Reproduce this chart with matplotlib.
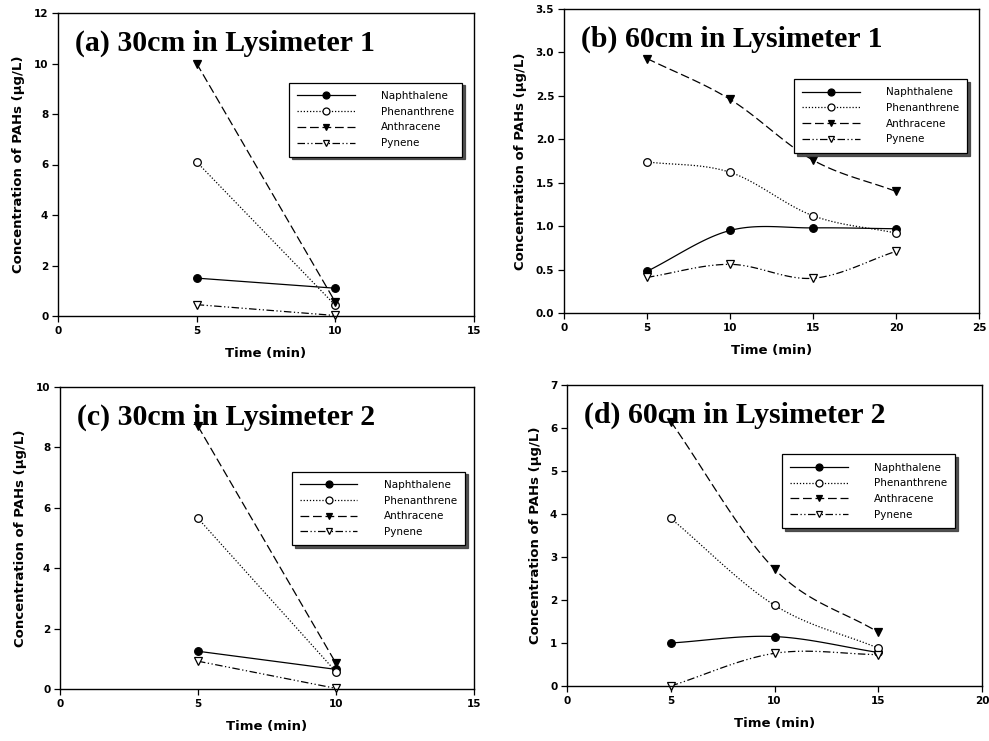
import numpy as np
import matplotlib
matplotlib.use("Agg")
import matplotlib.pyplot as plt

# Daten
names = ["Naphthalene", "Phenanthrene", "Anthracene", "Pynene"]

time_a = [5, 10]
naph_a = [1.5, 1.1]
phen_a = [6.1, 0.42]
anth_a = [10.0, 0.55]
pyr_a = [0.45, 0.02]

time_b = [5, 10, 15, 20]
naph_b = [0.48, 0.95, 0.98, 0.97]
phen_b = [1.74, 1.62, 1.12, 0.92]
anth_b = [2.93, 2.46, 1.76, 1.40]
pyr_b = [0.41, 0.56, 0.40, 0.71]

time_c = [5, 10]
naph_c = [1.25, 0.65]
phen_c = [5.65, 0.57]
anth_c = [8.7, 0.85]
pyr_c = [0.92, 0.02]

time_d = [5, 10, 15]
naph_d = [1.0, 1.15, 0.78]
phen_d = [3.9, 1.88, 0.88]
anth_d = [6.15, 2.72, 1.25]
pyr_d = [0.0, 0.76, 0.73]

titles = ["(a) 30cm in Lysimeter 1", "(b) 60cm in Lysimeter 1",
          "(c) 30cm in Lysimeter 2", "(d) 60cm in Lysimeter 2"]

styles = [
    dict(ls="-", marker="o", mfc="black"),
    dict(ls=(0, (1, 1.5)), marker="o", mfc="white"),
    dict(ls=(0, (7, 3)), marker="v", mfc="black"),
    dict(ls=(0, (6, 2, 1, 2, 1, 2)), marker="v", mfc="white"),
]


def smooth(x, y, n=40):
    # Catmull-Rom Kurve durch die Punkte (wie SigmaPlot "spline")
    x = np.asarray(x, float)
    y = np.asarray(y, float)
    if len(x) < 3:
        return x, y
    px = np.concatenate([[2 * x[0] - x[1]], x, [2 * x[-1] - x[-2]]])
    py = np.concatenate([[2 * y[0] - y[1]], y, [2 * y[-1] - y[-2]]])
    xs, ys = [], []
    t = np.linspace(0, 1, n)
    for i in range(1, len(px) - 2):
        for p, out in ((px, xs), (py, ys)):
            p0, p1, p2, p3 = p[i - 1], p[i], p[i + 1], p[i + 2]
            out.append(0.5 * ((2 * p1) + (-p0 + p2) * t
                              + (2 * p0 - 5 * p1 + 4 * p2 - p3) * t ** 2
                              + (-p0 + 3 * p1 - 3 * p2 + p3) * t ** 3))
    return np.concatenate(xs), np.concatenate(ys)


fig = plt.figure(figsize=(9.89, 7.41), dpi=100)
W, H = 989, 741
# Achsenrahmen in Pixeln (links, oben, rechts, unten)
boxes = [(58, 13, 474, 316), (564, 9, 979, 313),
         (60, 387, 474, 689), (567, 385, 982, 686)]

panels = [
    (time_a, [naph_a, phen_a, anth_a, pyr_a], 15, 12, 2, "%d", (0.555, 0.77)),
    (time_b, [naph_b, phen_b, anth_b, pyr_b], 25, 3.5, 0.5, "%.1f", (0.554, 0.77)),
    (time_c, [naph_c, phen_c, anth_c, pyr_c], 15, 10, 2, "%d", (0.56, 0.72)),
    (time_d, [naph_d, phen_d, anth_d, pyr_d], 20, 7, 1, "%d", (0.518, 0.77)),
]

for k, (tx, series, xmax, ymax, ystep, fmt, leg_pos) in enumerate(panels):
    l, t, r, b = boxes[k]
    ax = fig.add_axes([l / W, 1 - b / H, (r - l) / W, (b - t) / H])
    for name, vals, st in zip(names, series, styles):
        sx, sy = smooth(tx, vals)
        ax.plot(sx, sy, color="black", lw=0.9, ls=st["ls"])
        ax.plot(tx, vals, ls="none", marker=st["marker"], mfc=st["mfc"],
                mec="black", ms=5.5, mew=0.9, clip_on=False)
        ax.plot([], [], color="black", lw=0.9, ls=st["ls"], marker=st["marker"],
                mfc=st["mfc"], mec="black", ms=5, mew=0.9, label=name)
    ax.set_xlim(0, xmax)
    ax.set_ylim(0, ymax)
    ax.set_xticks(np.arange(0, xmax + 1, 5))
    ax.set_yticks(np.arange(0, ymax + ystep / 2, ystep))
    ax.yaxis.set_major_formatter(matplotlib.ticker.FormatStrFormatter(fmt))
    ax.tick_params(direction="out", length=4, width=0.9, labelsize=7.5, pad=3)
    for lab in ax.get_xticklabels() + ax.get_yticklabels():
        lab.set_fontweight("bold")
    for sp in ax.spines.values():
        sp.set_linewidth(1.0)
    ax.set_xlabel("Time (min)", fontsize=9.5, fontweight="bold", labelpad=8)
    ax.set_ylabel("Concentration of PAHs (\u03bcg/L)", fontsize=9.5,
                  fontweight="bold", labelpad=6)
    ax.text(0.04, 0.9, titles[k], transform=ax.transAxes, fontsize=21.5,
            fontweight="bold", family="Liberation Serif", va="center")
    leg = ax.legend(loc="upper left", bbox_to_anchor=leg_pos, fontsize=7.5,
                    frameon=True, fancybox=False,
                    shadow={"color": "0.25", "alpha": 0.9}, handlelength=5.5,
                    handletextpad=2.5, borderpad=0.8, labelspacing=0.55,
                    borderaxespad=0)
    leg.get_frame().set_edgecolor("black")
    leg.get_frame().set_linewidth(0.9)

fig.savefig("out.png", dpi=100)
